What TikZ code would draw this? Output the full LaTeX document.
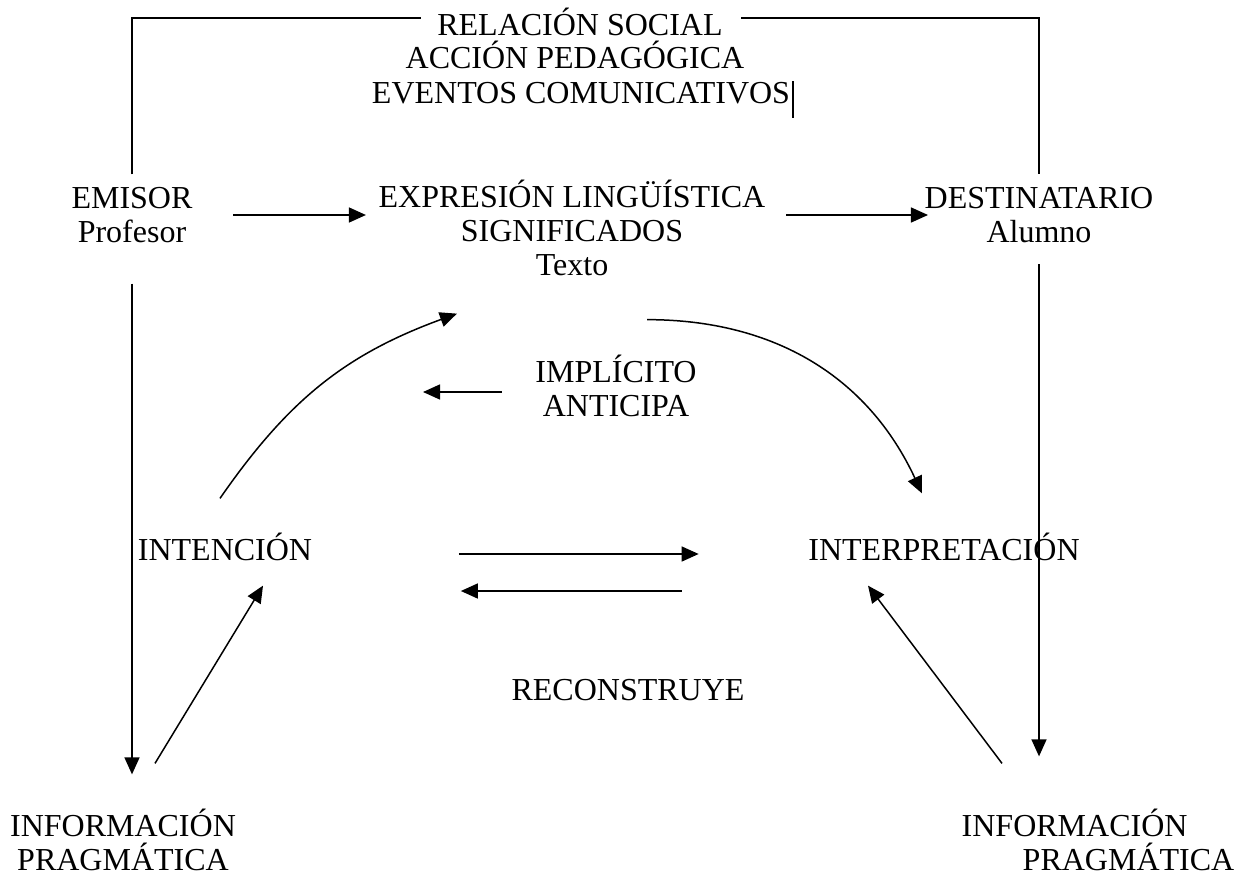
\documentclass[tikz,border=0pt]{standalone}
\usepackage{fontspec}
\setmainfont{Liberation Serif}
\usetikzlibrary{arrows.meta}

\begin{document}
\begin{tikzpicture}[x=1pt, y=-1pt, line width=1.5pt,
    lbl/.style = {font=\fontsize{32}{34}\selectfont, inner sep=0pt, align=center},
    >={Triangle[length=17pt,width=15pt]}]
        \useasboundingbox (0,0) rectangle (1244,877);
        \node[lbl] (rel) at (580,22) {RELACIÓN SOCIAL};
        \node[lbl] (ped) at (575,55) {ACCIÓN PEDAGÓGICA};
        \node[lbl] (eventos) at (581,93) {EVENTOS COMUNICATIVOS};
        \node[lbl] (emisor) at (132,215) {EMISOR\\Profesor};
        \node[lbl] (expr) at (572,228) {EXPRESIÓN LINGÜÍSTICA\\SIGNIFICADOS\\Texto};
        \node[lbl] (dest) at (1039,215) {DESTINATARIO\\Alumno};
        \node[lbl] (impl) at (616,386) {IMPLÍCITO\\ANTICIPA};
        \node[lbl] (intencion) at (225,547) {INTENCIÓN};
        \node[lbl] (interp) at (944,547) {INTERPRETACIÓN};
        \node[lbl] (recon) at (628,690) {RECONSTRUYE};
        \node[lbl] (info1) at (123,840) {INFORMACIÓN\\PRAGMÁTICA};
        \node[lbl, align=left] (info2) at (1098,840) {INFORMACIÓN\\\hspace*{61pt}PRAGMÁTICA};
        \coordinate (anticipo) at (423,392);
        %
        \draw[shorten <=12pt, shorten >=16pt] (emisor.north) |- ([yshift=4pt]rel.west);
        \draw[shorten <=18pt, shorten >=12pt] ([yshift=4pt]rel.east) -| (dest.north);
        \draw[line width=2pt] ([xshift=2pt]eventos.north east) -- ([xshift=2pt,yshift=-13pt]eventos.south east);
        %
        \draw[->, shorten <=40pt, shorten >=12pt] (emisor.east) -- (emisor.east -| expr.west);
        \draw[->, shorten <=20pt, shorten >=-4pt] (expr.east |- dest.west) -- (dest.west);
        \draw[->, shorten <=40pt, shorten >=34pt] (emisor.south) -- (emisor.south |- info1.north);
        \draw[->, shorten <=21pt, shorten >=52pt] (dest.south) -- (dest.south |- info2.north);
        \draw[->] ([shift={(32,-45)}]info1.north) -- ([shift={(38,24)}]intencion.south);
        \draw[->] ([shift={(-96,-45)}]info2.north) -- ([shift={(-76,24)}]interp.south);
        %
        \draw[->] ([shift={(-5,-34)}]intencion.north) .. controls +(68,-98) and +(-112,41) .. ([shift={(79,37)}]expr.south west);
        \draw[->] ([shift={(75,43)}]expr.south) .. controls +(128,0) and +(-54,-116) .. ([shift={(-22,-39)}]interp.north);
        \draw[->, shorten <=33pt] (impl.west |- anticipo) -- (anticipo);
        %
        \draw[->, shorten <=146pt, shorten >=109pt] ([yshift=-7pt]intencion.east) -- ([yshift=-7pt]interp.west);
        \draw[->, shorten <=126pt, shorten >=148pt] ([yshift=-44pt]interp.west) -- ([yshift=-44pt]intencion.east);
      \end{tikzpicture}
\end{document}
